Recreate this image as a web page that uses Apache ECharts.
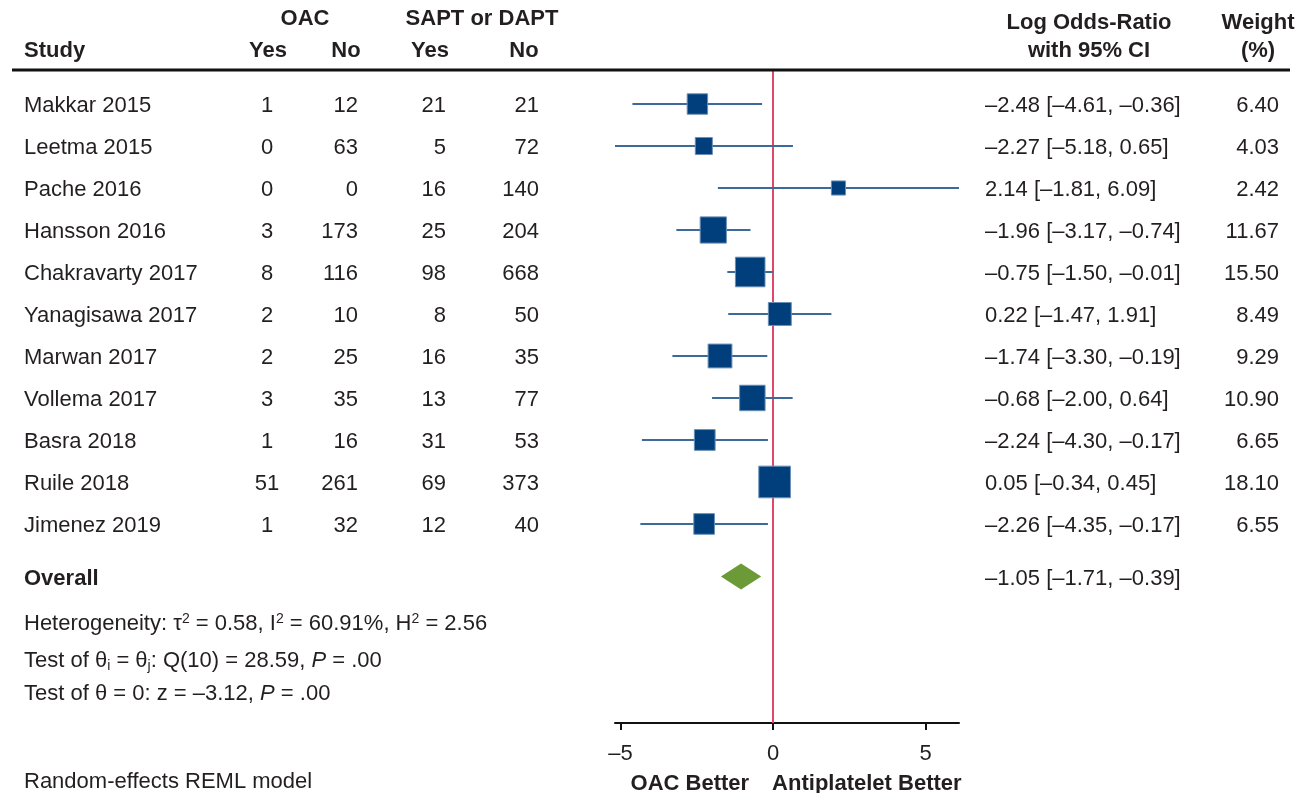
<!DOCTYPE html>
<html>
<head>
<meta charset="utf-8">
<script src="https://cdn.jsdelivr.net/npm/echarts@6/dist/echarts.min.js"></script>
<style>
html,body{margin:0;padding:0;background:#fff;}
#main{width:1299px;height:793px;}
</style>
</head>
<body>
<div id="main"></div>
<script>
const studies = ['Makkar 2015','Leetma 2015','Pache 2016','Hansson 2016','Chakravarty 2017','Yanagisawa 2017','Marwan 2017','Vollema 2017','Basra 2018','Ruile 2018','Jimenez 2019'];
const oacYes = [1,0,0,3,8,2,2,3,1,51,1];
const oacNo  = [12,63,0,173,116,10,25,35,16,261,32];
const aptYes = [21,5,16,25,98,8,16,13,31,69,12];
const aptNo  = [21,72,140,204,668,50,35,77,53,373,40];
const est    = [-2.48,-2.27,2.14,-1.96,-0.75,0.22,-1.74,-0.68,-2.24,0.05,-2.26];
const lower  = [-4.61,-5.18,-1.81,-3.17,-1.50,-1.47,-3.30,-2.00,-4.30,-0.34,-4.35];
const upper  = [-0.36,0.65,6.09,-0.74,-0.01,1.91,-0.19,0.64,-0.17,0.45,-0.17];
const weight = [6.40,4.03,2.42,11.67,15.50,8.49,9.29,10.90,6.65,18.10,6.55];
const overallEst = [-1.05];
const overallLower = [-1.71];
const overallUpper = [-0.39];
const overallRow = 11.25;
const xTicks = [-5,0,5];

const FONT = "'Liberation Sans', Arial, Helvetica, sans-serif";
const TXT = '#231f20';
const FS = 22;
const DY = 2;

function f2(v){ return (v<0?'\u2013':'') + Math.abs(v).toFixed(2); }
function ciText(e,l,u){ return f2(e)+' ['+f2(l)+', '+f2(u)+']'; }

function txt(x,y,text,align,bold){
  return {type:'text', style:{x:x,y:y,text:String(text),align:align,verticalAlign:'middle',
    fontSize:FS,fontFamily:FONT,fontWeight:bold?'bold':'normal',fill:TXT}};
}

const chart = echarts.init(document.getElementById('main'), null, {renderer:'canvas'});

const option = {
  backgroundColor:'#fff',
  animation:false,
  grid:{left:615, right:340, top:70, bottom:70},
  xAxis:{
    type:'value', min:-5.18, max:6.09,
    axisLine:{show:true, onZero:false, lineStyle:{color:'#111', width:2}},
    axisTick:{show:true, length:7, lineStyle:{color:'#111', width:2}, customValues:xTicks},
    axisLabel:{show:true, customValues:xTicks, margin:20, fontSize:FS, fontFamily:FONT, color:TXT,
      formatter:v => (v<0?'\u2013':'') + Math.abs(v)},
    splitLine:{show:false}
  },
  yAxis:{
    type:'value', inverse:true, min:-0.81, max:14.74,
    show:false, splitLine:{show:false}
  },
  graphic:[
    {type:'line', shape:{x1:12,y1:70,x2:1290,y2:70}, style:{stroke:'#111', lineWidth:3}, z:10},
    txt(305,19,'OAC','center',true),
    txt(482,19,'SAPT or DAPT','center',true),
    txt(24,51,'Study','left',true),
    txt(268,51,'Yes','center',true),
    txt(346,51,'No','center',true),
    txt(430,51,'Yes','center',true),
    txt(524,51,'No','center',true),
    txt(1089,23,'Log Odds-Ratio','center',true),
    txt(1089,51,'with 95% CI','center',true),
    txt(1258,23,'Weight','center',true),
    txt(1258,51,'(%)','center',true),
    {type:'text', style:{x:24,y:622+DY,verticalAlign:'middle',
      text:'Heterogeneity: \u03c4{sup|2} = 0.58, I{sup|2} = 60.91%, H{sup|2} = 2.56',
      fontSize:FS,fontFamily:FONT,fill:TXT,
      rich:{sup:{fontSize:14,fontFamily:FONT,fill:TXT,verticalAlign:'top',padding:[0,0,10,0]}}}},
    {type:'text', style:{x:24,y:659+DY,verticalAlign:'middle',
      text:'Test of \u03b8{sub|i} = \u03b8{sub|j}: Q(10) = 28.59, {it|P} = .00',
      fontSize:FS,fontFamily:FONT,fill:TXT,
      rich:{sub:{fontSize:14,fontFamily:FONT,fill:TXT,padding:[10,0,0,0]},
            it:{fontSize:FS,fontFamily:FONT,fill:TXT,fontStyle:'italic'}}}},
    {type:'text', style:{x:24,y:692+DY,verticalAlign:'middle',
      text:'Test of \u03b8 = 0: z = \u20133.12, {it|P} = .00',
      fontSize:FS,fontFamily:FONT,fill:TXT,
      rich:{it:{fontSize:FS,fontFamily:FONT,fill:TXT,fontStyle:'italic'}}}},
    txt(24,782,'Random-effects REML model','left',false)
  ],
  series:[
    {
      type:'custom', name:'ci', z:2,
      data: studies.map((s,i)=>[lower[i], upper[i], i]),
      encode:{x:[0,1], y:2},
      renderItem:(params, api)=>{
        const p1 = api.coord([api.value(0), api.value(2)]);
        const p2 = api.coord([api.value(1), api.value(2)]);
        return {type:'line', shape:{x1:p1[0],y1:p1[1],x2:p2[0],y2:p2[1]},
          style:{stroke:'#3b6a9b', lineWidth:2}};
      },
      markLine:{
        silent:true, symbol:['none','none'], label:{show:false},
        lineStyle:{color:'#e0476b', width:2, type:'solid'},
        data:[{xAxis:0}], z:1
      }
    },
    {
      type:'scatter', name:'est', z:5,
      data: est.map((v,i)=>[v, i, weight[i]]),
      symbol:'rect',
      symbolSize: d => 4 + 6.5*Math.sqrt(d[2]),
      itemStyle:{color:'#003e7c', borderColor:'#6a8fb5', borderWidth:1, opacity:1}
    },
    {
      type:'custom', name:'overall', z:5,
      data: overallEst.map((v,i)=>[overallLower[i], v, overallUpper[i], overallRow]),
      encode:{x:[0,1,2], y:3},
      renderItem:(params, api)=>{
        const y = api.value(3);
        const pl = api.coord([api.value(0), y]);
        const pm = api.coord([api.value(1), y]);
        const pr = api.coord([api.value(2), y]);
        const h = 13;
        return {type:'polygon', shape:{points:[[pl[0],pl[1]],[pm[0],pm[1]-h],[pr[0],pr[1]],[pm[0],pm[1]+h]]},
          style:{fill:'#6b9a36'}};
      }
    },
    {
      type:'custom', name:'table', z:6, clip:false,
      data: studies.map((s,i)=>[0, i]),
      encode:{x:0, y:1},
      renderItem:(params, api)=>{
        const i = params.dataIndex;
        const y = api.coord([0, api.value(1)])[1] + DY;
        return {type:'group', children:[
          txt(24, y, studies[i], 'left'),
          txt(267, y, oacYes[i], 'center'),
          txt(358, y, oacNo[i], 'right'),
          txt(446, y, aptYes[i], 'right'),
          txt(539, y, aptNo[i], 'right'),
          txt(985, y, ciText(est[i], lower[i], upper[i]), 'left'),
          txt(1279, y, weight[i].toFixed(2), 'right')
        ]};
      }
    },
    {
      type:'custom', name:'overallText', z:6, clip:false,
      data: overallEst.map((v,i)=>[0, overallRow]),
      encode:{x:0, y:1},
      renderItem:(params, api)=>{
        const i = params.dataIndex;
        const y = api.coord([0, api.value(1)])[1] + DY;
        return {type:'group', children:[
          txt(24, y, 'Overall', 'left', true),
          txt(985, y, ciText(overallEst[i], overallLower[i], overallUpper[i]), 'left')
        ]};
      }
    }
  ]
};
chart.setOption(option);

// axis-anchored direction labels
const x0 = chart.convertToPixel({xAxisIndex:0}, 0);
chart.setOption({graphic: option.graphic.concat([
  txt(x0 - 24, 784, 'OAC Better', 'right', true),
  txt(x0 - 1, 784, 'Antiplatelet Better', 'left', true)
])});
</script>
</body>
</html>
